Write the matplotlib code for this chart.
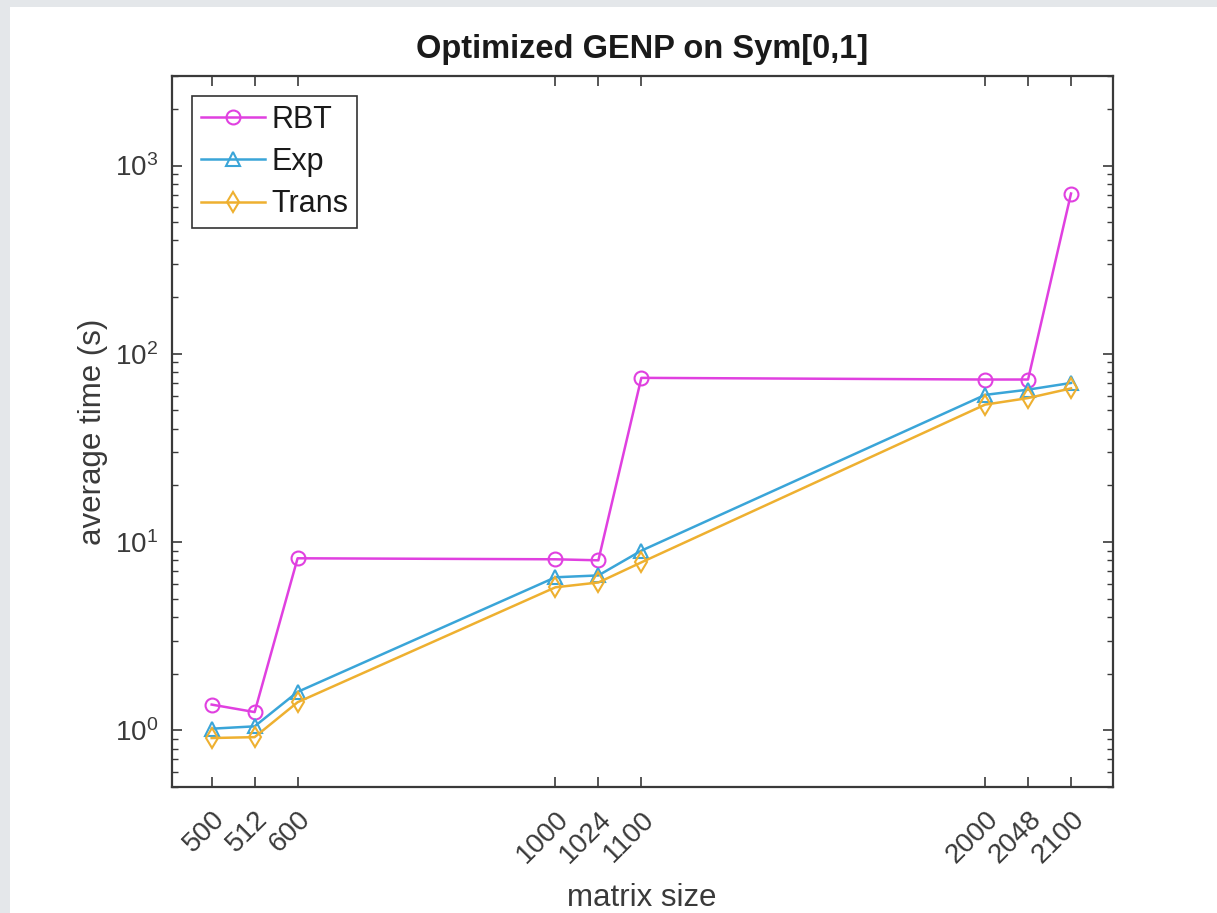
import numpy as np
import matplotlib
matplotlib.use("Agg")
import matplotlib.pyplot as plt
from matplotlib.patches import Rectangle
from matplotlib.transforms import ScaledTranslation
from matplotlib.ticker import LogLocator, NullFormatter

plt.rcParams['font.family'] = ['Liberation Sans', 'DejaVu Sans']

# matrix sizes and where they sit on the axis
sizes = [500, 512, 600, 1000, 1024, 1100, 2000, 2048, 2100]
x_pos = [1, 2, 3, 9, 10, 11, 19, 20, 21]

# average time in seconds
rbt = [1.37, 1.25, 8.2, 8.1, 8.0, 74.5, 73.0, 73.0, 710.0]
exp_t = [1.02, 1.05, 1.6, 6.5, 6.65, 9.0, 60.5, 64.5, 70.0]
trans = [0.91, 0.92, 1.41, 5.75, 6.1, 7.8, 53.7, 58.2, 65.5]

W, H = 1217, 913
fig = plt.figure(figsize=(W / 100, H / 100), dpi=100, facecolor='#e4e7ea')
fig.patches.append(Rectangle((10 / W, 0), 1 - 10 / W, 1 - 7 / H,
                             transform=fig.transFigure, facecolor='white',
                             edgecolor='none', zorder=-10))

ax = fig.add_axes([171.7 / W, 1 - 787 / H, 941 / W, 711.3 / H])
ax.set_facecolor('white')

lw = 1.8
ms = 10
ax.plot(x_pos, rbt, '-o', color='#e040e0', lw=lw, ms=ms, mfc='none', mew=1.5, label='RBT')
ax.plot(x_pos, exp_t, '-^', color='#3aa5d8', lw=lw, ms=ms, mfc='none', mew=1.5, label='Exp')
ax.plot(x_pos, trans, '-d', color='#eeb030', lw=lw, ms=ms, mfc='none', mew=1.5, label='Trans')

ax.set_yscale('log')
ax.set_ylim(0.5, 3000)
ax.set_xlim(0.07, 21.97)
ax.yaxis.set_major_locator(LogLocator(base=10, numticks=10))
ax.yaxis.set_minor_locator(LogLocator(base=10, subs=np.arange(2, 10), numticks=20))
ax.yaxis.set_minor_formatter(NullFormatter())

ax.set_xticks(x_pos)
ax.set_xticklabels([str(s) for s in sizes], rotation=45, ha='right', va='top',
                   rotation_mode='anchor')
shift = ScaledTranslation(7 / 72, 0, fig.dpi_scale_trans)
for lab in ax.get_xticklabels():
    lab.set_transform(lab.get_transform() + shift)

tc = '#3a3a3a'
for s in ax.spines.values():
    s.set_color('#3a3a3a')
    s.set_linewidth(1.6)
ax.tick_params(which='both', direction='in', top=True, right=True, colors='#3a3a3a',
               labelcolor=tc, labelsize=20)
ax.tick_params(which='major', length=7, width=1.2)
ax.tick_params(which='minor', length=4, width=1.0)
ax.tick_params(axis='x', pad=14)
ax.tick_params(axis='y', pad=10)

ax.set_xlabel('matrix size', fontsize=22.5, color=tc, labelpad=10)
ax.set_ylabel('average time (s)', fontsize=22.5, color=tc, labelpad=5)
ax.set_title('Optimized GENP on Sym[0,1]', fontsize=23.5, fontweight='bold',
             color='#1a1a1a', pad=13)

leg = ax.legend(loc='upper left', bbox_to_anchor=(20 / 941, 1 - 20 / 711.3),
                borderaxespad=0, fontsize=22, fancybox=False, framealpha=1,
                edgecolor='#333333', handlelength=2.1, handletextpad=0.2,
                borderpad=0.3, labelspacing=0.4)
leg.get_frame().set_linewidth(1.2)
for t in leg.get_texts():
    t.set_color('#1a1a1a')

fig.savefig('out.png', dpi=100, facecolor=fig.get_facecolor())
